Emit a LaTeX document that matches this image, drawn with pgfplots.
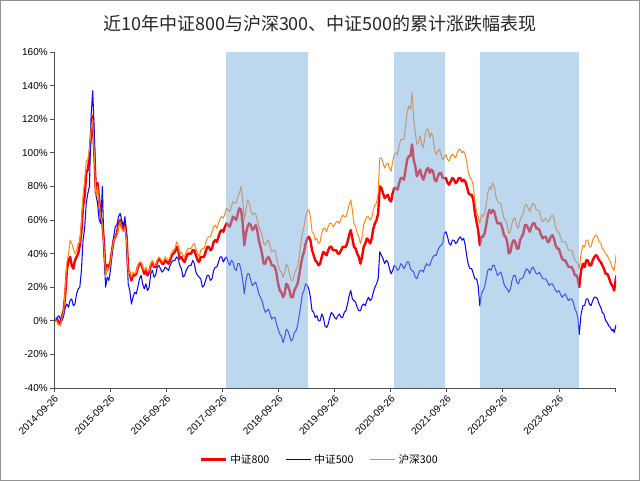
\documentclass[border=0pt]{standalone}
\usepackage{fontspec}
\setmainfont{Liberation Sans}
\newfontfamily\cjk{Noto Sans CJK SC}
\usepackage{pgfplots}
\usepackage{pgfplotstable}
\pgfplotsset{compat=1.18}

\definecolor{c800}{RGB}{255,0,0}
\definecolor{c500}{RGB}{10,10,245}
\definecolor{c300}{RGB}{255,135,20}
\definecolor{band}{RGB}{122,175,222}
\definecolor{leg500}{RGB}{0,0,150}
\definecolor{axisgray}{RGB}{80,80,80}

% w = weeks since 2014-09-26, values in % (800, 500, 300)
\pgfplotstableread{
w r b o
0 0 0 0
1.5 1 0 1
3 1 2 -1
4.5 -2 3 -2
6 -1 1 -3
7.5 3 0 2
9 6 3 5
10.5 16 8 20
12 30 10 35
13.5 36 8 40
15 38 12 48
16.5 33 13 46
18 31 9 43
19.5 36 10 40
21 38 16 42
22.5 40 19 46
24 45 20 47
25.5 53 30 58
27 68 48 75
28.5 74 55 83
30 88 70 95
31.5 90 76 96
33 98 80 102
34.5 112 122 114
36 122 137 120
37.5 100 112 100
39 76 75 74
40.5 82 70 80
42 72 60 70
43.5 62 58 62
45 58 80 58
46.5 46 42 44
48 28 20 26
49.5 33 26 32
51 32 24 30
52.5 35 30 34
54 42 40 42
55.5 48 50 48
57 50 56 50
58.5 52 57 51
60 58 62 56
61.5 60 64 59
63 56 60 55
64.5 54 56 53
66 58 62 56
67.5 50 48 48
69 30 22 28
70.5 28 18 29
72 24 10 26
73.5 27 14 29
75 27 17 28
76.5 28 16 29
78 32 20 33
79.5 34 25 35
81 34 27 35
82.5 31 22 32
84 28 19 30
85.5 30 22 32
87 27 18 29
88.5 29 20 30
90 33 28 34
91.5 35 30 36
93 32 26 33
94.5 32 27 33
96 35 32 36
97.5 37 33 38
99 36 31 37
100.5 34 29 35
102 34 30 36
103.5 36 32 38
105 35 31 37
106.5 34 30 36
108 36 33 38
109.5 39 35 41
111 40 36 42
112.5 41 36 43
114 44 38 47
115.5 42 37 45
117 37 33 40
118.5 38 31 41
120 36 26 39
121.5 35 27 38
123 38 30 41
124.5 40 32 43
126 40 33 43
127.5 40 33 43
129 42 36 45
130.5 42 34 46
132 39 29 43
133.5 36 27 40
135 35 26 38
136.5 38 25 42
138 38 20 43
139.5 38 21 43
141 41 24 46
142.5 44 27 49
144 44 27 50
145.5 42 24 50
147 43 25 53
148.5 47 30 56
150 48 32 57
151.5 47 32 55
153 50 35 58
154.5 53 38 61
156 54 38 62
157.5 53 35 61
159 56 37 64
160.5 58 38 67
162 57 35 66
163.5 56 33 65
165 59 36 68
166.5 62 35 71
168 61 31 70
169.5 60 30 70
171 64 34 74
172.5 67 34 76
174 66 30 80
175.5 58 24 72
177 45 16 60
178.5 52 24 66
180 56 28 72
181.5 58 28 70
183 57 24 66
184.5 54 21 63
186 55 22 64
187.5 57 23 64
189 54 20 60
190.5 48 16 56
192 44 14 54
193.5 40 12 51
195 34 8 46
196.5 34 5 45
198 37 6 47
199.5 38 7 48
201 36 4 44
202.5 33 1 41
204 33 2 42
205.5 32 2 42
207 28 -2 38
208.5 22 -5 33
210 18 -8 30
211.5 17 -9 29
213 14 -13 26
214.5 16 -10 28
216 22 -5 34
217.5 21 -6 32
219 18 -9 28
220.5 14 -12 24
222 14 -11 24
223.5 18 -7 28
225 20 -6 30
226.5 22 -3 32
228 27 3 38
229.5 33 9 46
231 38 16 52
232.5 41 18 56
234 46 22 62
235.5 49 21 65
237 50 19 66
238.5 48 14 62
240 42 6 53
241.5 39 5 52
243 36 2 48
244.5 35 3 49
246 33 0 46
247.5 34 0 47
249 38 4 52
250.5 41 2 55
252 40 -3 55
253.5 39 -4 53
255 42 -2 56
256.5 44 2 58
258 44 5 58
259.5 42 4 56
261 42 2 57
262.5 42 1 59
264 40 3 59
265.5 40 4 58
267 42 2 61
268.5 44 2 63
270 44 5 62
271.5 44 6 62
273 47 10 65
274.5 51 15 69
276 54 18 72
277.5 49 13 66
279 44 12 58
280.5 43 11 56
282 40 8 52
283.5 38 6 50
285 34 6 46
286.5 38 9 50
288 44 10 57
289.5 46 9 60
291 49 12 62
292.5 48 14 62
294 46 12 60
295.5 49 13 61
297 55 17 66
298.5 58 20 69
300 60 22 70
301.5 64 25 76
303 80 41 97
304.5 79 39 97
306 76 37 94
307.5 73 34 91
309 74 36 93
310.5 75 35 94
312 72 31 91
313.5 71 28 89
315 76 30 95
316.5 79 33 99
318 79 32 100
319.5 78 30 99
321 82 31 104
322.5 85 34 108
324 85 33 108
325.5 84 31 108
327 90 33 116
328.5 96 35 124
330 98 35 128
331.5 98 31 126
333 105 30 136
334.5 96 29 120
336 92 26 112
337.5 86 25 105
339 88 28 106
340.5 90 30 110
342 86 30 105
343.5 84 29 103
345 87 32 110
346.5 90 34 114
348 91 33 114
349.5 88 33 109
351 90 36 112
352.5 89 38 109
354 84 39 102
355.5 83 39 99
357 86 42 101
358.5 88 44 102
360 88 45 99
361.5 85 46 96
363 85 52 97
364.5 85 53 99
366 82 50 96
367.5 81 46 95
369 83 45 98
370.5 85 48 99
372 84 48 98
373.5 82 46 97
375 83 47 100
376.5 85 49 102
378 85 50 102
379.5 83 48 100
381 84 49 101
382.5 83 45 99
384 80 38 94
385.5 76 33 88
387 75 31 85
388.5 75 31 84
390 72 28 80
391.5 64 25 71
393 59 25 65
394.5 54 21 62
396 45 9 58
397.5 50 16 63
399 50 18 62
400.5 52 20 64
402 57 25 69
403.5 63 30 76
405 66 31 80
406.5 64 30 78
408 66 33 82
409.5 65 33 80
411 61 30 74
412.5 58 27 71
414 58 28 70
415.5 58 29 70
417 55 26 65
418.5 51 22 61
420 50 20 60
421.5 47 19 57
423 40 17 52
424.5 41 19 53
426 46 24 58
427.5 48 27 61
429 47 27 61
430.5 43 23 56
432 43 22 55
433.5 48 25 60
435 50 25 62
436.5 52 26 64
438 57 29 69
439.5 57 31 69
441 55 30 67
442.5 53 28 65
444 56 31 68
445.5 58 32 70
447 58 30 69
448.5 55 28 66
450 55 28 66
451.5 54 29 65
453 51 27 61
454.5 49 25 59
456 50 25 60
457.5 50 25 61
459 47 23 59
460.5 47 21 59
462 50 22 62
463.5 51 22 63
465 49 20 61
466.5 45 18 56
468 43 17 53
469.5 43 18 53
471 40 16 50
472.5 37 14 47
474 36 15 47
475.5 36 16 47
477 34 14 45
478.5 32 12 42
480 32 13 42
481.5 32 13 42
483 30 11 39
484.5 27 7 36
486 27 5 35
487.2 25 2 34
488.5 20 -8 31
490.2 30 4 40
492 34 9 45
493.5 32 9 44
495 36 13 48
496.5 36 13 48
498 33 10 44
499.5 33 9 44
501 36 12 48
502.5 38 14 50
504 39 14 51
505.5 38 13 50
507 36 10 47
508.5 35 8 46
510 33 5 43
511.5 31 4 42
513 28 0 40
514.5 28 -1 39
516 26 -3 37
517.5 23 -4 35
519 21 -6 32
520 20 -5 31
521 18 -7 30
523 27 -2 40
}\idx

\begin{document}
\begin{tikzpicture}
\path[use as bounding box] (-40.5pt,-69.75pt) rectangle (439.5pt,291pt);
\draw[gray!85, line width=0.75pt] (-40.1pt,-69.35pt) rectangle (439.1pt,290.6pt);

\begin{axis}[
    at={(0,0)}, anchor=south west,
    scale only axis, width=421.5pt, height=252pt,
    xmin=0, xmax=522.7, ymin=-40, ymax=160,
    axis lines=left, axis line style={-, axisgray, line width=0.6pt},
    axis on top,
    tick align=outside, major tick length=3pt,
    tick style={axisgray, line width=0.6pt},
    xtick={0,52.18,104.36,156.54,208.72,260.9,313.08,365.26,417.44,469.62,521.8},
    xticklabels={2014-09-26,2015-09-26,2016-09-26,2017-09-26,2018-09-26,2019-09-26,2020-09-26,2021-09-26,2022-09-26,2023-09-26,{}},
    x tick label style={rotate=45, anchor=north east, inner sep=1pt, font=\fontsize{7.5}{8.5}\selectfont},
    ytick={-40,-20,...,160},
    yticklabel={\pgfmathprintnumber{\tick}\%},
    y tick label style={font=\fontsize{7.5}{8.5}\selectfont, inner sep=1.5pt},
    /pgf/number format/assume math mode=true,
    legend style={at={(0.473,-0.214)}, anchor=center, draw=none, fill=none,
        legend columns=3, font=\cjk\fontsize{8}{9}\selectfont,
        /tikz/every even column/.append style={column sep=10pt}},
    legend image code/.code={\draw[#1] (0pt,0pt) -- (19pt,0pt);},
]
\addplot[c800, line width=1.8pt, line join=round, forget plot] table[x=w, y=r] {\idx};
\addplot[c500, line width=0.8pt, line join=round, forget plot] table[x=w, y=b] {\idx};
\addplot[c300, line width=0.75pt, line join=round, forget plot] table[x=w, y=o] {\idx};

\addplot[draw=none, fill=band, fill opacity=0.5, forget plot] coordinates {(159.7,-40) (159.7,160) (235.8,160) (235.8,-40)} -- cycle;
\addplot[draw=none, fill=band, fill opacity=0.5, forget plot] coordinates {(316.6,-40) (316.6,160) (364,160) (364,-40)} -- cycle;
\addplot[draw=none, fill=band, fill opacity=0.5, forget plot] coordinates {(396.5,-40) (396.5,160) (488.4,160) (488.4,-40)} -- cycle;

\addlegendimage{c800, line width=2.2pt}
\addlegendentry{中证800}
\addlegendimage{leg500, line width=0.8pt}
\addlegendentry{中证500}
\addlegendimage{c300, line width=0.8pt}
\addlegendentry{沪深300}
\end{axis}

\node[font=\cjk\fontsize{13.5}{15}\selectfont, text=black!85] at (199.5pt,273pt) {近10年中证800与沪深300、中证500的累计涨跌幅表现};
\end{tikzpicture}
\end{document}
